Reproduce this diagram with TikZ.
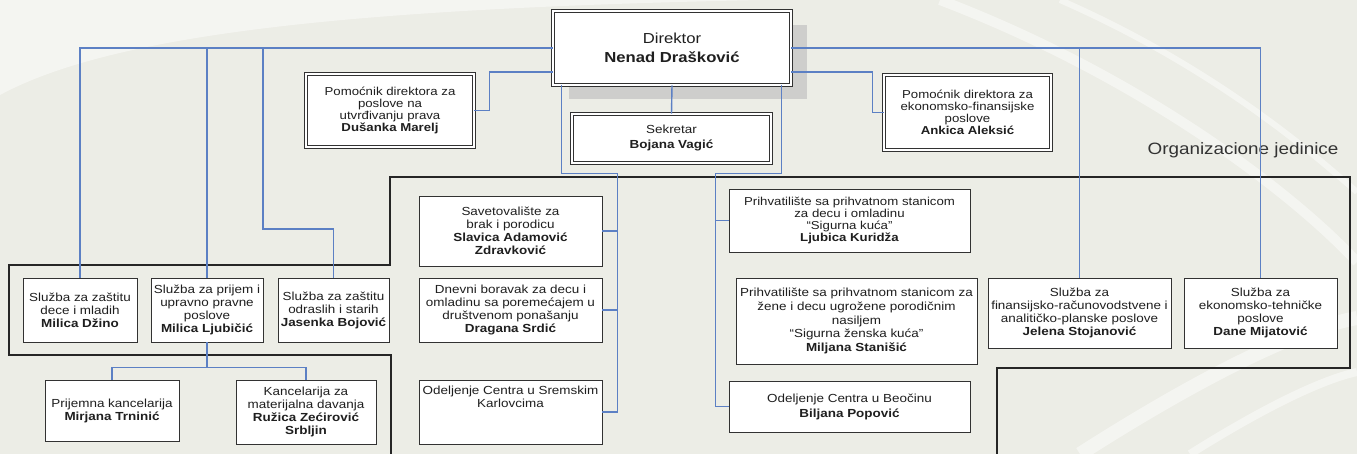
\documentclass[tikz,border=0pt]{standalone}
\usepackage{fontspec}
\setmainfont{Liberation Sans}[FakeStretch=1.15]
\usetikzlibrary{shadows}

\definecolor{paper}{RGB}{236,237,230}
\definecolor{linkblue}{RGB}{92,128,196}
\definecolor{boxline}{RGB}{50,50,50}
\definecolor{shade}{RGB}{206,206,204}

\begin{document}
\begin{tikzpicture}[
		x=1pt, y=-1pt,
		unit/.style={draw=boxline, line width=0.8pt, fill=white, align=center, inner sep=1pt, text=black!88,
			font=\fontsize{11.7}{13}\selectfont},
		head/.style={unit, line width=0.75pt, double=white, double distance=1.8pt},
		link/.style={draw=linkblue, line width=1.4pt},
		frame/.style={draw=black!85, line width=2.2pt},
		swoosh/.style={white, opacity=0.45},
	]
	% background
	\useasboundingbox (0,0) rectangle (1357,454);
	\fill[paper] (0,0) rectangle (1357,454);
	\fill[swoosh] (0,0) -- (0,95) .. controls (120,30) and (380,8) .. (760,0) -- cycle;
	\draw[swoosh, line width=10pt] (940,0) .. controls (1150,80) and (1300,200) .. (1357,262);
	\draw[swoosh, line width=6pt] (1060,0) .. controls (1220,70) and (1320,160) .. (1357,192);
	\draw[swoosh, line width=14pt] (1080,454) .. controls (1180,390) and (1290,330) .. (1357,318);
	\draw[swoosh, line width=8pt] (1190,454) .. controls (1260,410) and (1320,380) .. (1357,372);

	% outline of the organisational units
	\draw[frame] (997,458) -- (997,368) -- (1350,368) -- (1350,177) -- (390,177) -- (390,265)
		-- (9,265) -- (9,355) -- (391,355) -- (391,458);
	\node (title) [font=\fontsize{16.4}{18}\selectfont, text=black!80] at (1243,150) {Organizacione jedinice};

	% management
	\node (dir) [head, minimum width=238, minimum height=74, font=\fontsize{14.5}{19}\selectfont,
		drop shadow={shadow xshift=16pt, shadow yshift=-14pt, opacity=1, fill=shade}]
		at (672,48) {Direktor\\\textbf{Nenad Drašković}};
	\node (pomA) [head, minimum width=168, minimum height=73, font=\fontsize{11.5}{12.2}\selectfont]
		at (390,110.5) {Pomoćnik direktora za\\poslove na\\utvrđivanju prava\\\textbf{Dušanka Marelj}};
	\node (pomB) [head, minimum width=167, minimum height=75, font=\fontsize{11.5}{12.2}\selectfont]
		at (967.5,112.5) {Pomoćnik direktora za\\ekonomsko-finansijske\\poslove\\\textbf{Ankica Aleksić}};
	\node (sek) [head, minimum width=199, minimum height=49, font=\fontsize{11.7}{15}\selectfont]
		at (671.5,138.5) {Sekretar\\\textbf{Bojana Vagić}};

	% sluzbe, left
	\node (szDeca) [unit, minimum width=114, minimum height=64] at (80,310) {Služba za zaštitu\\dece i mladih\\\textbf{Milica Džino}};
	\node (szPrijem) [unit, minimum width=112, minimum height=64] at (207,310) {Služba za prijem i\\upravno pravne\\poslove\\\textbf{Milica Ljubičić}};
	\node (szOdrasli) [unit, minimum width=111, minimum height=64] at (333.5,310) {Služba za zaštitu\\odraslih i starih\\\textbf{Jasenka Bojović}};
	\node (kPrijem) [unit, minimum width=134, minimum height=61] at (112,410.5) {Prijemna kancelarija\\\textbf{Mirjana Trninić}};
	\node (kMat) [unit, minimum width=140, minimum height=64] at (306,412) {Kancelarija za\\materijalna davanja\\\textbf{Ružica Zećirović}\\\textbf{Srbljin}};

	% middle column
	\node (sav) [unit, minimum width=183, minimum height=70] at (510.5,231) {Savetovalište za\\brak i porodicu\\\textbf{Slavica Adamović}\\\textbf{Zdravković}};
	\node (dnev) [unit, minimum width=183, minimum height=64] at (510.5,310) {Dnevni boravak za decu i\\omladinu sa poremećajem u\\društvenom ponašanju\\\textbf{Dragana Srdić}};
	\node (odSK) [unit, minimum width=183, minimum height=64,
		label={[align=center, anchor=north, yshift=-3pt, text=black!88, font=\fontsize{11.7}{13}\selectfont]north:{Odeljenje Centra u Sremskim\\Karlovcima}}]
		at (510.5,412) {};

	% shelters
	\node (prihA) [unit, minimum width=241, minimum height=63, font=\fontsize{11.5}{11.8}\selectfont] at (849.5,220.5) {Prihvatilište sa prihvatnom stanicom\\za decu i omladinu\\“Sigurna kuća”\\\textbf{Ljubica Kuridža}};
	\node (prihB) [unit, minimum width=241, minimum height=86, font=\fontsize{11.7}{13.8}\selectfont] at (856.5,321) {Prihvatilište sa prihvatnom stanicom za\\žene i decu ugrožene porodičnim\\nasiljem\\“Sigurna ženska kuća”\\\textbf{Miljana Stanišić}};
	\node (odB) [unit, minimum width=241, minimum height=51, font=\fontsize{11.7}{15}\selectfont] at (849.5,406.5) {Odeljenje Centra u Beočinu\\\textbf{Biljana Popović}};

	% sluzbe, right
	\node (szFin) [unit, minimum width=183, minimum height=70] at (1079.5,313) {Služba za\\finansijsko-računovodstvene i\\analitičko-planske poslove\\\textbf{Jelena Stojanović}};
	\node (szEkon) [unit, minimum width=153, minimum height=70] at (1260.5,313) {Služba za\\ekonomsko-tehničke\\poslove\\\textbf{Dane Mijatović}};

	% connectors
	\coordinate (jog) at (263,229);
	\draw[link] (dir.west) -| (szDeca.north);
	\draw[link] (szPrijem.north |- dir.west) -- (szPrijem.north);
	\draw[link] (jog |- dir.west) -- (jog) -| (szOdrasli.north);
	\draw[link] (szPrijem.south) -- ++(0,25) coordinate (split) -| (kPrijem.north);
	\draw[link] (split) -| (kMat.north);
	\draw[link] ([yshift=-24pt]dir.west) -| ([xshift=15pt]pomA.east) -- (pomA.east);
	\draw[link] (dir.east) -| (szEkon.north);
	\draw[link] (szFin.north |- dir.east) -- (szFin.north);
	\draw[link] ([yshift=-24pt]dir.east) -| ([xshift=-11pt]pomB.west) -- (pomB.west);
	\draw[link] (dir.south) -- (sek.north);
	\draw[link] ([xshift=9pt]dir.south west) -- ++(0,88) -| ([xshift=15pt]odSK.east) -- (odSK.east);
	\draw[link] ([xshift=15pt]sav.east) -- (sav.east);
	\draw[link] ([xshift=15pt]dnev.east) -- (dnev.east);
	\draw[link] ([xshift=-10pt]dir.south east) -- ++(0,88) -| ([xshift=-13pt]odB.west) -- (odB.west);
	\draw[link] ([xshift=-13pt]prihA.west) -- (prihA.west);
\end{tikzpicture}
\end{document}
